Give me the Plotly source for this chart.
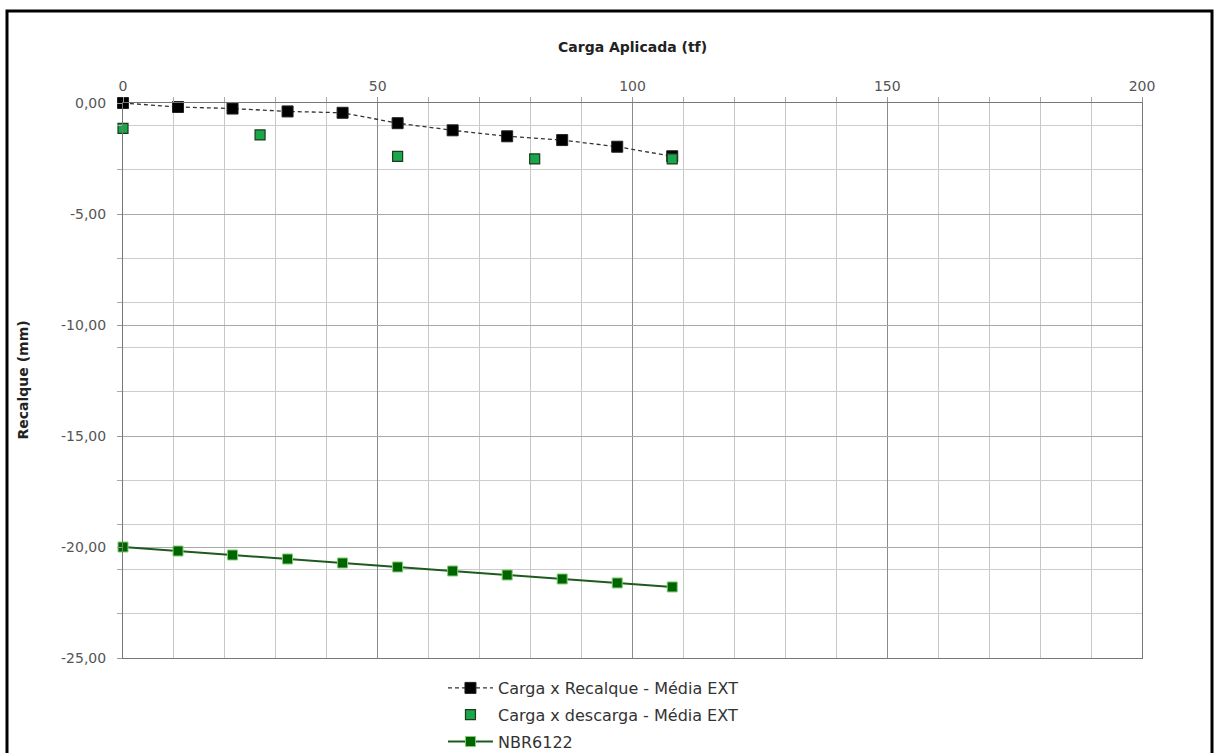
import plotly.graph_objects as go

# Data
carga = [0, 10.8, 21.5, 32.3, 43.1, 53.9, 64.7, 75.4, 86.2, 97.0, 107.8]
recalque = [0.00, -0.18, -0.25, -0.38, -0.44, -0.91, -1.23, -1.50, -1.67, -1.97, -2.40]

carga_desc = [107.8, 80.8, 53.9, 26.9, 0]
descarga = [-2.52, -2.52, -2.40, -1.44, -1.14]

nbr = [-20.00, -20.18, -20.36, -20.54, -20.72, -20.90, -21.08, -21.26, -21.44, -21.62, -21.80]

y_ticks = [0, -5, -10, -15, -20, -25]
y_ticktext = ["0,00", "-5,00", "-10,00", "-15,00", "-20,00", "-25,00"]
x_ticks = [0, 50, 100, 150, 200]

FONT = "DejaVu Sans"
H = 800  # taller than window so the legend never pushes the margins
PLOT_TOP, PLOT_BOTTOM = 103, 658
PH = PLOT_BOTTOM - PLOT_TOP

fig = go.Figure()
fig.add_trace(go.Scatter(
    x=carga, y=recalque, mode="lines+markers",
    name="Carga x Recalque - Média EXT", legendgroup="a",
    line=dict(color="#333333", width=1.3, dash="4px,3px"),
    marker=dict(symbol="square", size=11, color="black", line=dict(color="#222", width=1)),
    cliponaxis=False,
))
fig.add_trace(go.Scatter(
    x=carga_desc, y=descarga, mode="markers",
    name="Carga x descarga - Média EXT", legendgroup="b",
    marker=dict(symbol="square", size=10, color="#1aa64a", line=dict(color="#1b3b1b", width=1.2)),
    cliponaxis=False,
))
fig.add_trace(go.Scatter(
    x=carga, y=nbr, mode="lines+markers",
    name="NBR6122", legendgroup="c",
    line=dict(color="#1e5a1e", width=2),
    marker=dict(symbol="square", size=10, color="#006400", line=dict(color="#7fcf6f", width=1)),
    cliponaxis=False,
))

fig.update_layout(
    width=1219, height=H,
    margin=dict(l=123, r=77, t=PLOT_TOP, b=H - PLOT_BOTTOM),
    paper_bgcolor="white", plot_bgcolor="white",
    font=dict(family=FONT, color="#444"),
    showlegend=True,
    legend=dict(
        x=0.314, xanchor="left", y=-(671 - PLOT_BOTTOM) / PH, yanchor="top",
        font=dict(family=FONT, size=16, color="#333"),
        tracegroupgap=3, itemwidth=45, bgcolor="rgba(0,0,0,0)",
    ),
    xaxis=dict(
        side="top", range=[0, 200], tickvals=x_ticks,
        showgrid=True, gridcolor="#8c8c8c", gridwidth=1,
        ticks="outside", ticklen=5, tickcolor="#999",
        tickfont=dict(family=FONT, size=14, color="#555"),
        showline=True, linecolor="#777", mirror=True,
        zeroline=False,
        minor=dict(dtick=10, tick0=0, showgrid=True, gridcolor="#c8c8c8",
                   ticks="outside", ticklen=5, tickcolor="#aaa"),
    ),
    yaxis=dict(
        range=[-25, 0], tickvals=y_ticks, ticktext=y_ticktext,
        showgrid=True, gridcolor="#a8a8a8", gridwidth=1,
        ticks="outside", ticklen=5, tickcolor="#999",
        ticklabelstandoff=8,
        tickfont=dict(family=FONT, size=14, color="#555"),
        showline=True, linecolor="#777", mirror=True,
        zeroline=False,
        minor=dict(dtick=2, tick0=-1, showgrid=True, gridcolor="#cccccc",
                   ticks="outside", ticklen=5, tickcolor="#aaa"),
    ),
)

fig.add_annotation(
    text="<b>Carga Aplicada (tf)</b>", xref="paper", yref="paper",
    x=0.5, y=(PLOT_BOTTOM - 47) / PH, xanchor="center", yanchor="middle",
    showarrow=False, font=dict(family=FONT, size=14, color="#222"),
)
fig.add_annotation(
    text="<b>Recalque (mm)</b>", xref="paper", yref="paper",
    x=(22 - 123) / 1019, y=0.5, xanchor="center", yanchor="middle",
    textangle=-90, showarrow=False, font=dict(family=FONT, size=14, color="#222"),
)

# outer frame
fig.add_shape(
    type="rect", xref="paper", yref="paper",
    x0=(7 - 123) / 1019, x1=(1212 - 123) / 1019,
    y0=(PLOT_BOTTOM - 785) / PH, y1=(PLOT_BOTTOM - 11) / PH,
    line=dict(color="black", width=3), layer="above",
)

fig.write_html(
    "out.html",
    config={"displayModeBar": False},
    post_script="document.body.style.margin='0px';document.body.style.overflow='hidden';document.documentElement.style.overflow='hidden';",
)
